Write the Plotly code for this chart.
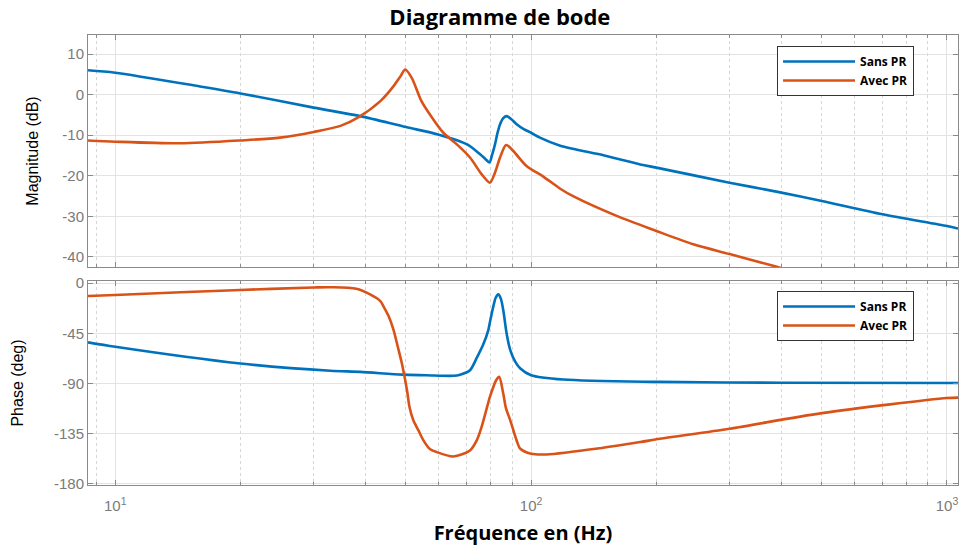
import plotly.graph_objects as go

# ---------------- data ----------------
f_mag_sans = [8.6, 10, 16, 20, 30, 38.8, 50, 59.7, 70, 75.4, 77.5, 79.4, 80.5, 81.9, 83, 84.2,
              85.7, 87.4, 89.5, 92.3, 96, 100, 105, 117.5, 150, 183, 200, 300, 397, 500, 700, 1000, 1063]
mag_sans = [6.0, 5.4, 2.0, 0.3, -3.2, -5.3, -8.0, -9.8, -12.2, -14.7, -15.8, -16.7, -15.0, -12.2, -9.5, -7.3,
            -5.8, -5.3, -6.0, -7.3, -8.5, -9.4, -10.6, -12.6, -15.0, -17.2, -18.0, -21.7, -24.1, -26.2, -29.5, -32.4, -33.0]

f_mag_avec = [8.6, 10, 14.3, 20, 24.9, 30, 34.8, 38.4, 43.4, 46.7, 48.5, 49.8, 51.6, 54.5, 57.1, 61.5,
              66.2, 71.3, 76, 79.6, 81.9, 84.2, 87.1, 90.6, 97.5, 107, 117.5, 126.5, 160.6, 200, 245.5, 300, 382, 400]
mag_avec = [-11.3, -11.6, -12.0, -11.3, -10.6, -9.2, -7.7, -5.6, -1.6, 2.1, 4.5, 6.2, 4.2, -1.6, -4.9, -9.4,
            -12.2, -15.5, -19.6, -21.7, -19.2, -15.5, -12.4, -13.9, -17.6, -20.2, -23.2, -25.1, -29.9, -33.6, -36.9, -39.3, -42.2, -42.8]

f_ph_sans = [8.6, 10, 20, 32.9, 38.8, 49, 56, 65, 67.5, 71.3, 74, 76.7, 78.9, 79.6, 81.1, 82.2, 83.4,
             84.6, 85.7, 87.4, 89.1, 91.5, 94.2, 100, 119.6, 204, 400, 1063]
ph_sans = [-53, -57, -72, -78.5, -79.5, -82, -82.5, -83, -82, -78, -67, -55, -42, -35, -21, -13, -10,
           -14, -24, -46, -60, -70, -76.5, -82.5, -86.4, -88.5, -89.2, -89.5]

f_ph_avec = [8.6, 10, 20, 30, 33, 38, 41, 43.4, 44.2, 45.5, 46.7, 47.8, 48.9, 50.3, 51, 52.1, 53.6, 55.1,
             57, 59.3, 65, 71.3, 74, 76, 78.5, 79.6, 82.4, 83.8, 85.7, 87, 89.1, 91, 92.3, 94.2, 100, 109,
             146.6, 183, 204, 300, 500, 1000, 1063]
ph_avec = [-11.4, -10.5, -6, -3.8, -3.6, -5, -10, -16, -21, -30, -42, -57, -72, -96, -111, -123, -132, -141,
           -148.5, -151.5, -155.4, -150, -141, -129, -110, -102, -87, -84, -99, -112, -123, -134, -141, -148.5, -153, -153.6,
           -148, -142.5, -139.5, -130.5, -116.5, -103, -102.6]

series_names = ["Sans PR", "Avec PR"]
x_tickvals = [10, 100, 1000]
x_ticktext = ["10<sup>1</sup>", "10<sup>2</sup>", "10<sup>3</sup>"]
x_minor = [9, 20, 30, 40, 50, 60, 70, 80, 90, 200, 300, 400, 500, 600, 700, 800, 900]
mag_ticks = [10, 0, -10, -20, -30, -40]
mag_ticktext = ["10", "0", "-10", "-20", "-30", "-40"]
ph_ticks = [0, -45, -90, -135, -180]
ph_ticktext = ["0", "-45", "-90", "-135", "-180"]

BLUE = "#0072BD"
ORANGE = "#D95319"
FRAME = "#8a8a8a"
GRID = "#e3e3e3"
TICKFONT = dict(family="Liberation Sans, Arial", size=15, color="#7a7a7a")
LINE = dict(width=2.6, shape="spline", smoothing=0.8)

fig = go.Figure()
fig.add_trace(go.Scatter(x=f_mag_sans, y=mag_sans, name=series_names[0], mode="lines",
                         line=dict(LINE, color=BLUE), xaxis="x", yaxis="y", legend="legend"))
fig.add_trace(go.Scatter(x=f_mag_avec, y=mag_avec, name=series_names[1], mode="lines",
                         line=dict(LINE, color=ORANGE), xaxis="x", yaxis="y", legend="legend"))
fig.add_trace(go.Scatter(x=f_ph_sans, y=ph_sans, name=series_names[0], mode="lines",
                         line=dict(LINE, color=BLUE), xaxis="x2", yaxis="y2", legend="legend2"))
fig.add_trace(go.Scatter(x=f_ph_avec, y=ph_avec, name=series_names[1], mode="lines",
                         line=dict(LINE, color=ORANGE), xaxis="x2", yaxis="y2", legend="legend2"))

xr = [0.9345, 3.0265]
common_x = dict(type="log", range=xr, tickvals=x_tickvals, ticktext=x_ticktext, automargin=False,
                showline=True, linecolor=FRAME, linewidth=1, mirror="ticks",
                ticks="inside", ticklen=5, tickcolor=FRAME,
                showgrid=True, gridcolor=GRID, gridwidth=1, zeroline=False,
                minor=dict(tickvals=x_minor, ticks="inside", ticklen=3, tickcolor=FRAME,
                           showgrid=True, gridcolor="#d6d6d6", griddash="dot", gridwidth=1),
                tickfont=TICKFONT)
common_y = dict(showline=True, linecolor=FRAME, linewidth=1, mirror="ticks", automargin=False,
                ticks="inside", ticklen=5, tickcolor=FRAME,
                showgrid=True, gridcolor=GRID, gridwidth=1, zeroline=False,
                tickfont=TICKFONT)

legend_common = dict(bgcolor="white", bordercolor="#333333", borderwidth=1,
                     font=dict(family="Open Sans", size=12, color="black", weight="bold"),
                     xanchor="left", yanchor="top", itemwidth=72, tracegroupgap=0)

fig.update_layout(
    width=965, height=546,
    margin=dict(l=88, r=7, t=35, b=61, autoexpand=False),
    paper_bgcolor="white", plot_bgcolor="white",
    showlegend=True,
    title=dict(text="<b>Diagramme de bode</b>", x=0.518, xref="container", xanchor="center",
               y=0.969, yref="container", yanchor="middle", automargin=False,
               font=dict(family="Open Sans", size=22, color="black")),
    xaxis=dict(common_x, domain=[0, 1], anchor="y", showticklabels=False, matches="x2"),
    yaxis=dict(common_y, domain=[0.4844, 1], anchor="x", range=[-42.5, 14.7],
               tickvals=mag_ticks, ticktext=mag_ticktext,
               title=dict(text="Magnitude (dB)", standoff=19,
                          font=dict(family="Liberation Sans, Arial", size=16, color="black"))),
    xaxis2=dict(common_x, domain=[0, 1], anchor="y2", ticklabelstandoff=7,
                title=dict(text="<b>Fréquence en (Hz)</b>", standoff=12,
                           font=dict(family="Open Sans", size=20, color="black"))),
    yaxis2=dict(common_y, domain=[0, 0.4533], anchor="x2", range=[-181, 2],
                tickvals=ph_ticks, ticktext=ph_ticktext,
                title=dict(text="Phase (deg)", standoff=26,
                           font=dict(family="Liberation Sans, Arial", size=16, color="black"))),
    legend=dict(legend_common, x=0.792, y=0.9756),
    legend2=dict(legend_common, x=0.792, y=0.431),
)

fig.write_html("out.html", config={"displayModeBar": False},
               post_script="document.body.style.margin='0';document.body.style.overflow='hidden';")
